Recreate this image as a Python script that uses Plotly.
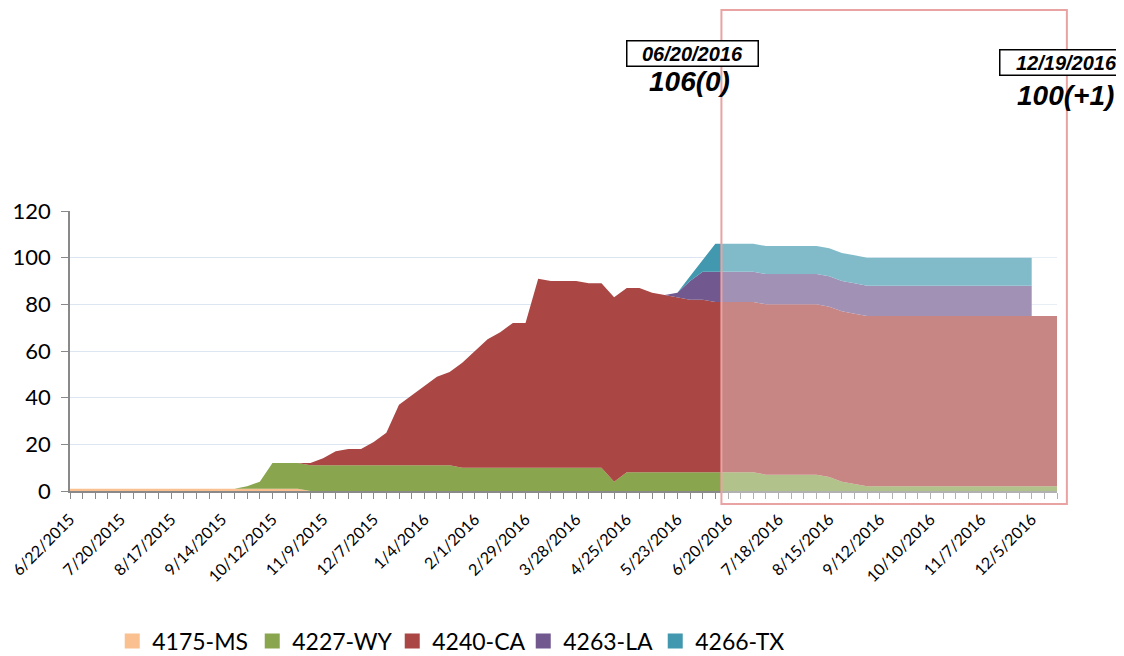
import plotly.graph_objects as go

# Weekly categories
dates = [
    "2015-06-22", "2015-06-29", "2015-07-06", "2015-07-13", "2015-07-20", "2015-07-27",
    "2015-08-03", "2015-08-10", "2015-08-17", "2015-08-24", "2015-08-31", "2015-09-07",
    "2015-09-14", "2015-09-21", "2015-09-28", "2015-10-05", "2015-10-12", "2015-10-19",
    "2015-10-26", "2015-11-02", "2015-11-09", "2015-11-16", "2015-11-23", "2015-11-30",
    "2015-12-07", "2015-12-14", "2015-12-21", "2015-12-28", "2016-01-04", "2016-01-11",
    "2016-01-18", "2016-01-25", "2016-02-01", "2016-02-08", "2016-02-15", "2016-02-22",
    "2016-02-29", "2016-03-07", "2016-03-14", "2016-03-21", "2016-03-28", "2016-04-04",
    "2016-04-11", "2016-04-18", "2016-04-25", "2016-05-02", "2016-05-09", "2016-05-16",
    "2016-05-23", "2016-05-30", "2016-06-06", "2016-06-13", "2016-06-20", "2016-06-27",
    "2016-07-04", "2016-07-11", "2016-07-18", "2016-07-25", "2016-08-01", "2016-08-08",
    "2016-08-15", "2016-08-22", "2016-08-29", "2016-09-05", "2016-09-12", "2016-09-19",
    "2016-09-26", "2016-10-03", "2016-10-10", "2016-10-17", "2016-10-24", "2016-10-31",
    "2016-11-07", "2016-11-14", "2016-11-21", "2016-11-28", "2016-12-05", "2016-12-12",
    "2016-12-19",
]

# Tick labels (every 4th week is labelled)
tick_labels = [
    "6/22/2015", "", "", "", "7/20/2015", "", "", "", "8/17/2015", "", "", "",
    "9/14/2015", "", "", "", "10/12/2015", "", "", "", "11/9/2015", "", "", "",
    "12/7/2015", "", "", "", "1/4/2016", "", "", "", "2/1/2016", "", "", "",
    "2/29/2016", "", "", "", "3/28/2016", "", "", "", "4/25/2016", "", "", "",
    "5/23/2016", "", "", "", "6/20/2016", "", "", "", "7/18/2016", "", "", "",
    "8/15/2016", "", "", "", "9/12/2016", "", "", "", "10/10/2016", "", "", "",
    "11/7/2016", "", "", "", "12/5/2016", "", "",
]

ms = [1, 1, 1, 1, 1, 1, 1, 1, 1, 1, 1, 1, 1, 1, 1, 1, 1, 1, 1,
      0, 0, 0, 0, 0, 0, 0, 0, 0, 0, 0, 0, 0, 0, 0, 0, 0, 0, 0, 0, 0,
      0, 0, 0, 0, 0, 0, 0, 0, 0, 0, 0, 0, 0, 0, 0, 0, 0, 0, 0, 0,
      0, 0, 0, 0, 0, 0, 0, 0, 0, 0, 0, 0, 0, 0, 0, 0, 0, 0, 0]

wy = [0, 0, 0, 0, 0, 0, 0, 0, 0, 0, 0, 0, 0, 0, 1, 3,
      11, 11, 11, 11, 11, 11, 11, 11, 11, 11, 11, 11, 11, 11, 11,
      10, 10, 10, 10, 10, 10, 10, 10, 10, 10, 10, 10,
      4,
      8, 8, 8, 8, 8, 8, 8, 8, 8, 8, 8,
      7, 7, 7, 7, 7,
      6, 4, 3,
      2, 2, 2, 2, 2, 2, 2, 2, 2, 2, 2, 2, 2, 2, 2, 2]

ca = [0, 0, 0, 0, 0, 0, 0, 0, 0, 0, 0, 0, 0, 0, 0, 0, 0, 0, 0,
      1, 3, 6, 7, 7, 10, 14, 26, 30, 34, 38, 40, 45, 50, 55, 58, 62, 62,
      81, 80, 80, 80, 79, 79, 79, 79, 79, 77, 76, 75, 74, 74, 73,
      73, 73, 73, 73, 73, 73, 73, 73, 73, 73, 73, 73, 73, 73, 73, 73,
      73, 73, 73, 73, 73, 73, 73, 73, 73, 73, 73]

# LA and TX have no data for the last two weeks
la = [0, 0, 0, 0, 0, 0, 0, 0, 0, 0, 0, 0, 0, 0, 0, 0, 0, 0, 0, 0,
      0, 0, 0, 0, 0, 0, 0, 0, 0, 0, 0, 0, 0, 0, 0, 0, 0, 0, 0, 0,
      0, 0, 0, 0, 0, 0, 0, 0,
      2, 8, 12,
      13, 13, 13, 13, 13, 13, 13, 13, 13, 13, 13, 13, 13, 13, 13, 13,
      13, 13, 13, 13, 13, 13, 13, 13, 13, 13]

tx = [0, 0, 0, 0, 0, 0, 0, 0, 0, 0, 0, 0, 0, 0, 0, 0, 0, 0, 0, 0,
      0, 0, 0, 0, 0, 0, 0, 0, 0, 0, 0, 0, 0, 0, 0, 0, 0, 0, 0, 0,
      0, 0, 0, 0, 0, 0, 0, 0, 0,
      2, 5,
      12, 12, 12, 12, 12, 12, 12, 12, 12, 12, 12, 12, 12, 12, 12, 12,
      12, 12, 12, 12, 12, 12, 12, 12, 12, 12]

series_names = ["4175-MS", "4227-WY", "4240-CA", "4263-LA", "4266-TX"]
series_values = [ms, wy, ca, la, tx]
series_colors = ["#FAC090", "#89A54E", "#AA4643", "#71588F", "#4198AF"]

y_ticks = [0, 20, 40, 60, 80, 100, 120]

# legend entry widths (px) - layout styling
legend_entry_widths = [95, 95, 86, 87, 90]

fig = go.Figure()

# Stacked areas built from cumulative sums (shorter series end with a vertical edge)
running = None
for name, vals, col in zip(series_names, series_values, series_colors):
    n = len(vals)
    xs = dates[:n]
    base = [0] * n if running is None else running[:n]
    top = [b + v for b, v in zip(base, vals)]
    if running is not None and n < len(running):
        fig.add_trace(go.Scatter(x=xs, y=base, mode="lines", line=dict(width=0, color=col),
                                 showlegend=False, hoverinfo="skip"))
    fig.add_trace(go.Scatter(
        x=xs, y=top, name=name, mode="lines", line=dict(width=0, color=col),
        fill="tozeroy" if running is None else "tonexty", fillcolor=col,
        showlegend=False, legendgroup=name, hoverinfo="x+name",
    ))
    running = top

# Legend entries with square swatches
for name, col, lw in zip(series_names, series_colors, legend_entry_widths):
    fig.add_trace(go.Scatter(
        x=[None], y=[None], name=name, mode="markers",
        marker=dict(symbol="square", size=15, color=col),
        legendgroup=name, showlegend=True, legendwidth=lw,
    ))

AX = "#898989"
fig.update_layout(
    width=1116, height=656, autosize=False,
    margin=dict(l=62, r=67, t=203, b=173, autoexpand=False),
    paper_bgcolor="white", plot_bgcolor="white",
    font=dict(family="Lato, Calibri, sans-serif", color="#000000"),
    showlegend=True,
    legend=dict(
        orientation="h", xref="container", yref="container",
        x=0.0934, xanchor="left", y=0.0351, yanchor="middle",
        font=dict(size=23, family="Lato, sans-serif"), traceorder="normal",
        itemwidth=30, tracegroupgap=0, bgcolor="rgba(0,0,0,0)",
    ),
    xaxis=dict(
        type="date", range=[dates[0], dates[-1]],
        tickmode="array", tickvals=dates, ticktext=tick_labels,
        tickangle=-45, tickfont=dict(size=16), ticklabeloverflow="allow",
        showline=True, linecolor=AX, linewidth=1.5,
        ticks="outside", ticklen=6, tickcolor=AX, tickwidth=1.2,
        showgrid=False, zeroline=False, ticklabelstandoff=5, automargin=False,
    ),
    yaxis=dict(
        range=[0, 120], tickmode="array", tickvals=y_ticks,
        tickfont=dict(size=22),
        showline=True, linecolor=AX, linewidth=1.5,
        ticks="outside", ticklen=7, tickcolor=AX, tickwidth=1.2,
        showgrid=True, gridcolor="#DCE6F2", gridwidth=1, zeroline=False,
        ticklabelstandoff=6, automargin=False,
    ),
)

# Highlight box over the recent period
fig.add_shape(
    type="rect", xref="paper", yref="paper",
    x0=0.660, x1=1.010, y0=-0.046, y1=1.718,
    fillcolor="rgba(255,255,255,0.34)",
    line=dict(color="#E9A3A3", width=2), layer="above",
)

ann_font = "Liberation Sans, Arial, sans-serif"
fig.add_annotation(
    xref="paper", yref="paper", x=0.631, y=1.564, xanchor="center", yanchor="middle",
    text="<b><i>06/20/2016</i></b>", showarrow=False,
    font=dict(family=ann_font, size=20, color="black"),
    bordercolor="black", borderwidth=1.5, borderpad=0, width=130, height=24,
    bgcolor="white",
)
fig.add_annotation(
    xref="paper", yref="paper", x=0.628, y=1.461, xanchor="center", yanchor="middle",
    text="<b><i>106(0)</i></b>", showarrow=False,
    font=dict(family=ann_font, size=28, color="black"),
)
fig.add_annotation(
    xref="paper", yref="paper", x=1.010, y=1.532, xanchor="center", yanchor="middle",
    text="<b><i>12/19/2016</i></b>", showarrow=False,
    font=dict(family=ann_font, size=20, color="black"),
    bordercolor="black", borderwidth=1.5, borderpad=0, width=132, height=24,
    bgcolor="white",
)
fig.add_annotation(
    xref="paper", yref="paper", x=1.009, y=1.411, xanchor="center", yanchor="middle",
    text="<b><i>100(+1)</i></b>", showarrow=False,
    font=dict(family=ann_font, size=28, color="black"),
)

fig.write_html("out.html")
